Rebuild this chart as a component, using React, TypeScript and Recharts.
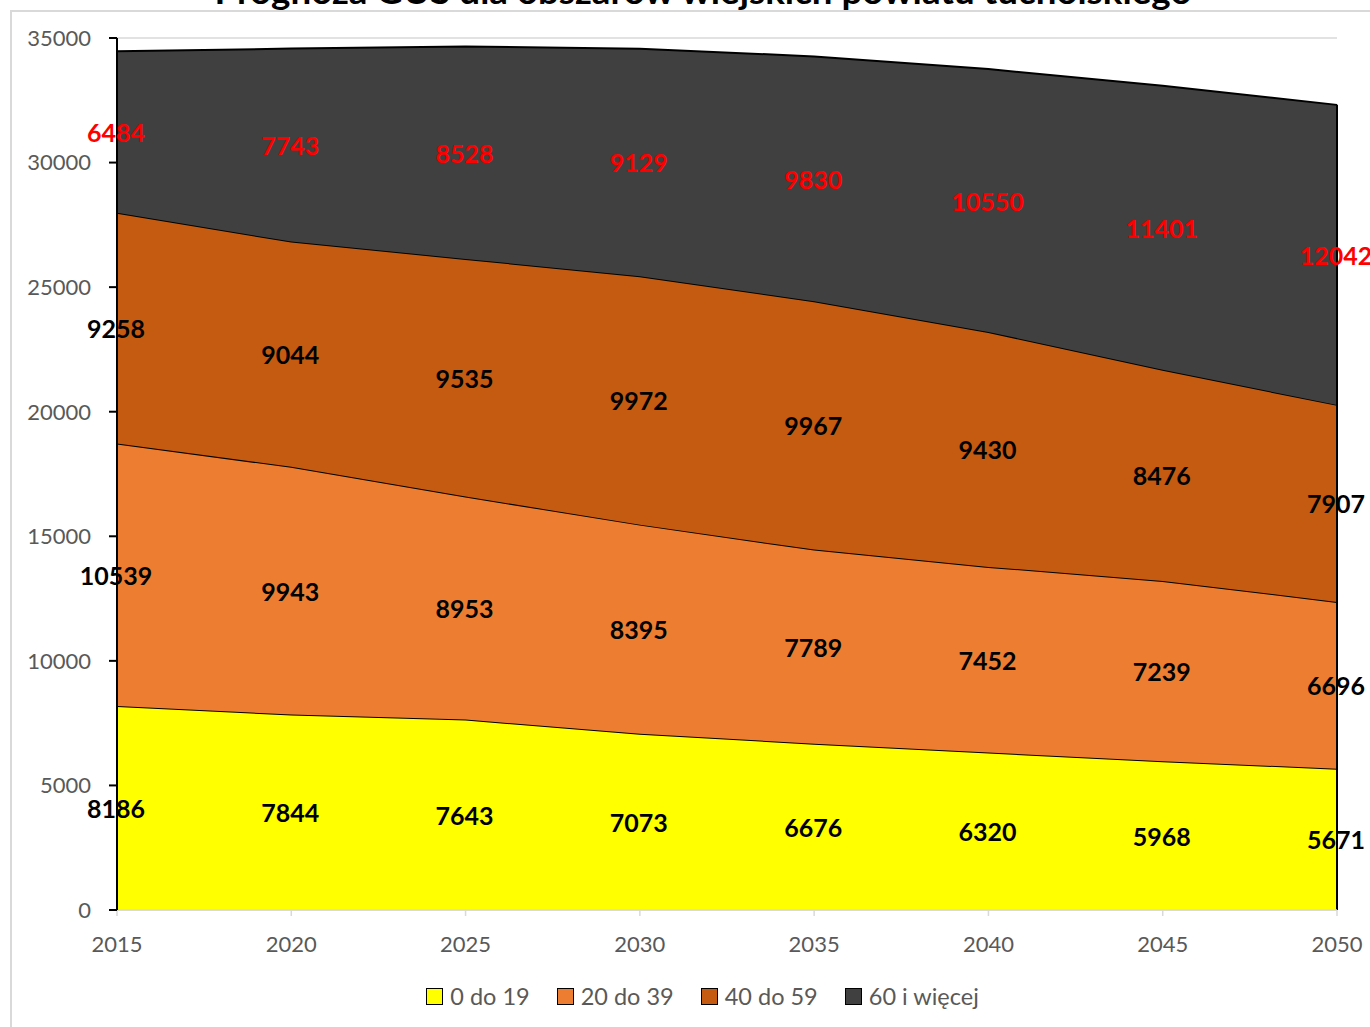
import {
  ComposedChart,
  Area,
  Line,
  XAxis,
  YAxis,
  CartesianGrid,
  Legend,
  LabelList,
  ReferenceLine,
} from 'recharts';

const years = [2015, 2020, 2025, 2030, 2035, 2040, 2045, 2050];
const age0to19 = [8186, 7844, 7643, 7073, 6676, 6320, 5968, 5671];
const age20to39 = [10539, 9943, 8953, 8395, 7789, 7452, 7239, 6696];
const age40to59 = [9258, 9044, 9535, 9972, 9967, 9430, 8476, 7907];
const age60plus = [6484, 7743, 8528, 9129, 9830, 10550, 11401, 12042];

const seriesNames = ['0 do 19', '20 do 39', '40 do 59', '60 i więcej'];
const seriesColors = ['#FFFF00', '#ED7D31', '#C55A11', '#404040'];
const labelColors = ['#000000', '#000000', '#000000', '#FF0000'];
const yTicks = [0, 5000, 10000, 15000, 20000, 25000, 30000, 35000];

const groups = [age0to19, age20to39, age40to59, age60plus];

// stacked values + band middles for the value labels
const data = years.map((year, i) => {
  const row: any = { year };
  let base = 0;
  groups.forEach((g, k) => {
    row[`v${k}`] = g[i];
    row[`m${k}`] = base + g[i] / 2;
    base += g[i];
  });
  row.total = base;
  return row;
});

const lastRow = data[data.length - 1];
const FONT = 'Lato, "Open Sans", sans-serif';

const LegendBox = () => (
  <div
    style={{
      display: 'flex',
      justifyContent: 'center',
      fontFamily: FONT,
      fontSize: 23.5,
      color: '#595959',
      height: 36,
      alignItems: 'center',
      paddingLeft: 78,
    }}
  >
    {seriesNames.map((name, idx) => (
      <div key={name} style={{ display: 'flex', alignItems: 'center', marginRight: 27 }}>
        <span
          style={{
            display: 'inline-block',
            width: 15,
            height: 15,
            background: seriesColors[idx],
            border: '1.5px solid #000',
            marginRight: 7,
          }}
        />
        {name}
      </div>
    ))}
  </div>
);

const App = () => {
  return (
    <div style={{ position: 'absolute', left: 0, top: 0, width: 1370, height: 1027, overflow: 'hidden', background: '#fff' }}>
      <div
        style={{
          position: 'absolute',
          left: 10,
          top: 10,
          width: 1400,
          height: 1100,
          borderLeft: '2px solid #d9d9d9',
          borderTop: '2px solid #d9d9d9',
        }}
      />
      <svg width={1370} height={20} style={{ position: 'absolute', left: 0, top: 0 }}>
        <text
          x={703}
          y={4}
          textAnchor='middle'
          fontFamily={FONT}
          fontWeight='bold'
          fontSize={34}
          fill='#000'
          textLength={977}
          lengthAdjust='spacingAndGlyphs'
        >
          Prognoza GUS dla obszarów wiejskich powiatu tucholskiego
        </text>
      </svg>
      <div style={{ position: 'absolute', left: 0, top: 0 }}>
        <ComposedChart
          width={1370}
          height={1027}
          data={data}
          margin={{ top: 38, right: 33, left: 17, bottom: 13 }}
        >
          <CartesianGrid vertical={false} stroke='#d9d9d9' strokeWidth={1.5} />
          <XAxis
            dataKey='year'
            type='number'
            domain={[2015, 2050]}
            ticks={years}
            height={68}
            stroke='#d9d9d9'
            strokeWidth={1.5}
            tickSize={6}
            tickMargin={20}
            tick={{ fill: '#595959', fontSize: 22, fontFamily: FONT }}
          />
          <YAxis
            domain={[0, 35000]}
            ticks={yTicks}
            width={100}
            stroke='#000'
            strokeWidth={2}
            tickSize={8}
            tickMargin={18}
            tick={{ fill: '#595959', fontSize: 22, fontFamily: FONT }}
          />
          {seriesNames.map((name, idx) => (
            <Area
              key={name}
              type='linear'
              dataKey={`v${idx}`}
              name={name}
              stackId='1'
              fill={seriesColors[idx]}
              fillOpacity={1}
              stroke='#000'
              strokeWidth={2}
              isAnimationActive={false}
            />
          ))}
          <ReferenceLine
            segment={[
              { x: lastRow.year, y: 0 },
              { x: lastRow.year, y: lastRow.total },
            ]}
            stroke='#000'
            strokeWidth={2}
          />
          {seriesNames.map((name, idx) => (
            <Line
              key={`lbl-${name}`}
              dataKey={`m${idx}`}
              stroke='none'
              dot={false}
              activeDot={false}
              legendType='none'
              isAnimationActive={false}
            >
              <LabelList
                dataKey={`v${idx}`}
                content={(p: any) => (
                  <text
                    x={p.x - 1}
                    y={p.y}
                    dy={10}
                    textAnchor='middle'
                    fontFamily={FONT}
                    fontWeight='bold'
                    fontSize={25}
                    fill={labelColors[idx]}
                  >
                    {p.value}
                  </text>
                )}
              />
            </Line>
          ))}
          <Legend verticalAlign='bottom' content={() => <LegendBox />} />
        </ComposedChart>
      </div>
    </div>
  );
};

export default App;
